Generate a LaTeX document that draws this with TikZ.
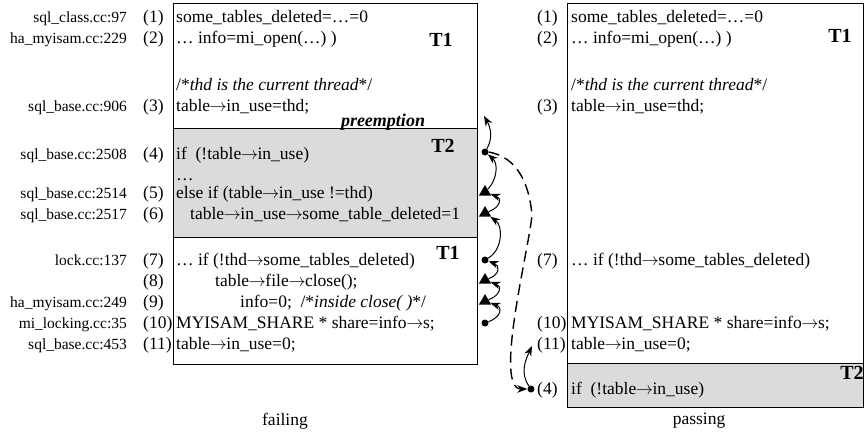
\documentclass[tikz,border=0pt]{standalone}
\usepackage{fontspec}
\setmainfont{Liberation Serif}
\usepackage{tikz}
\usetikzlibrary{positioning, arrows.meta, shapes.geometric}

\newcommand{\deref}{\kern-0.5pt$\rightarrow$\kern-0.5pt}

\tikzset{
    code/.style={anchor=base west, inner sep=0pt, font=\fontsize{17.5}{20}\selectfont},
    num/.style={anchor=base west, inner sep=0pt, font=\fontsize{17.5}{20}\selectfont},
    src/.style={anchor=base east, inner sep=0pt, font=\fontsize{15.5}{18}\selectfont},
    thread/.style={inner sep=0pt, font=\fontsize{20}{22}\selectfont\bfseries},
    caption/.style={inner sep=0pt, font=\fontsize{17.5}{20}\selectfont},
    dot/.style={circle, fill, inner sep=0pt, minimum size=7pt},
    tri/.style={regular polygon, regular polygon sides=3, fill, inner sep=0pt, minimum size=14pt},
    dep/.style={-{Stealth[length=10pt,width=7.5pt]}, line width=1pt},
    sched/.style={-{Stealth[length=10pt,width=7.5pt]}, line width=1.4pt, dash pattern=on 11pt off 6pt},
    slice/.style={fill=black!14},
}

\begin{document}
\begin{tikzpicture}[x=1pt, y=1pt]
    \useasboundingbox (0, 0) rectangle (865, -437);

    % failing run
    \fill[slice] (173, -128) rectangle (477, -237);
    \draw[semithick] (173, -3) rectangle (477, -364);
    \draw[semithick] (173, -128) -- (477, -128);
    \draw[semithick] (173, -237) -- (477, -237);

    \node[src] (f1) at (127, -22) {sql\_class.cc:97};
    \node[src] (f2) at (127, -43) {ha\_myisam.cc:229};
    \node[src] (f3) at (127, -111) {sql\_base.cc:906};
    \node[src] (f4) at (127, -159) {sql\_base.cc:2508};
    \node[src] (f5) at (127, -198) {sql\_base.cc:2514};
    \node[src] (f6) at (127, -219) {sql\_base.cc:2517};
    \node[src] (f7) at (127, -265) {lock.cc:137};
    \node[src] (f9) at (127, -307) {ha\_myisam.cc:249};
    \node[src] (f10) at (127, -328) {mi\_locking.cc:35};
    \node[src] (f11) at (127, -349) {sql\_base.cc:453};

    \node[num] (n1) at (143, -22) {(1)};
    \node[num] (n2) at (143, -43) {(2)};
    \node[num] (n3) at (143, -111) {(3)};
    \node[num] (n4) at (143, -159) {(4)};
    \node[num] (n5) at (143, -198) {(5)};
    \node[num] (n6) at (143, -219) {(6)};
    \node[num] (n7) at (143, -265) {(7)};
    \node[num] (n8) at (143, -286) {(8)};
    \node[num] (n9) at (143, -307) {(9)};
    \node[num] (n10) at (143, -328) {(10)};
    \node[num] (n11) at (143, -349) {(11)};

    \node[code] (l1) at (176, -22) {some\_tables\_deleted=…=0};
    \node[code] (l2) at (176, -43) {… info=mi\_open(…) )};
    \node[code] (lc) at (176, -90) {/*\textit{thd is the current thread}*/};
    \node[code] (l3) at (176, -111) {table\deref in\_use=thd;};
    \node[code] (l4) at (176, -159) {if\ \ (!table\deref in\_use)};
    \node[code] (ld) at (176, -180) {…};
    \node[code] (l5) at (176, -198) {else if (table\deref in\_use !=thd)};
    \node[code] (l6) at (190, -219) {table\deref in\_use\deref some\_table\_deleted=1};
    \node[code] (l7) at (176, -265) {… if (!thd\deref some\_tables\_deleted)};
    \node[code] (l8) at (215, -286) {table\deref file\deref close();};
    \node[code] (l9) at (240, -307) {info=0;\ \ /*\textit{inside close( )}*/};
    \node[code] (l10) at (176, -328) {MYISAM\_SHARE * share=info\deref s;};
    \node[code] (l11) at (176, -349) {table\deref in\_use=0;};

    \node[thread] (t1a) at (441, -40) {T1};
    \node[thread] (t2a) at (443, -146) {T2};
    \node[thread] (t1b) at (448, -253) {T1};
    \node[code, anchor=base, font=\fontsize{18}{20}\selectfont\bfseries\itshape] (pre) at (383, -126) {preemption};

    \node[caption] (fail) at (285, -421) {failing};

    % markers
    \node[dot] (m4) at (485, -152) {};
    \node[tri] (m5) at (485, -192) {};
    \node[tri] (m6) at (485, -213) {};
    \node[dot] (m7) at (485, -260) {};
    \node[tri] (m8) at (485, -280) {};
    \node[tri] (m9) at (485, -301) {};
    \node[dot] (m10) at (485, -323) {};
    \coordinate (c3) at (484, -116);

    \draw[dep] (m4) to[out=60, in=-60] (c3);
    \draw[dep] (m5) to[out=45, in=-40] (m4);
    \draw[dep] (m6) to[out=20, in=-20, looseness=1.8] (m5);
    \draw[dep] (m7) to[out=30, in=-35] (m6);
    \draw[dep] (m8) to[out=20, in=-20, looseness=1.8] (m7);
    \draw[dep] (m9) to[out=20, in=-20, looseness=1.8] (m8);
    \draw[dep] (m10) to[out=20, in=-20, looseness=1.8] (m9);

    % passing run
    \fill[slice] (567, -363) rectangle (863, -407);
    \draw[semithick] (567, -3) rectangle (863, -407);
    \draw[semithick] (567, -363) -- (863, -363);

    \node[num] (rn1) at (537, -22) {(1)};
    \node[num] (rn2) at (537, -43) {(2)};
    \node[num] (rn3) at (537, -111) {(3)};
    \node[num] (rn7) at (537, -265) {(7)};
    \node[num] (rn10) at (537, -328) {(10)};
    \node[num] (rn11) at (537, -349) {(11)};
    \node[num] (rn4) at (537, -394) {(4)};

    \node[code] (r1) at (571, -22) {some\_tables\_deleted=…=0};
    \node[code] (r2) at (571, -43) {… info=mi\_open(…) )};
    \node[code] (rc) at (571, -90) {/*\textit{thd is the current thread}*/};
    \node[code] (r3) at (571, -111) {table\deref in\_use=thd;};
    \node[code] (r7) at (571, -265) {… if (!thd\deref some\_tables\_deleted)};
    \node[code] (r10) at (571, -328) {MYISAM\_SHARE * share=info\deref s;};
    \node[code] (r11) at (571, -349) {table\deref in\_use=0;};
    \node[code] (r4) at (571, -394) {if\ \ (!table\deref in\_use)};

    \node[thread] (t1c) at (840, -36) {T1};
    \node[thread] (t2c) at (852, -373) {T2};

    \node[caption] (pass) at (699, -421) {passing};

    \node[dot] (d4) at (531, -389) {};
    \coordinate (c11) at (532, -346);
    \coordinate (bend) at (532, -215);

    \draw[dep] (d4) to[out=125, in=-115] (c11);
    \draw[sched] (m4.east) to[out=-10, in=95] (bend) to[out=-95, in=180, looseness=0.5] (d4.west);
\end{tikzpicture}
\end{document}
